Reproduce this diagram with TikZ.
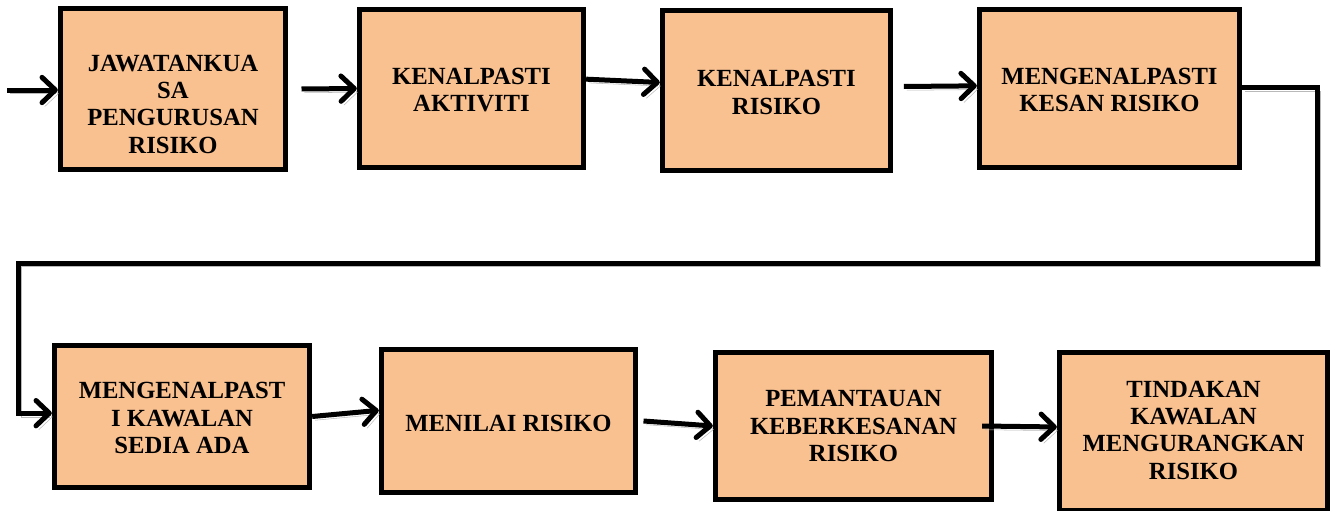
\documentclass[tikz,border=0pt]{standalone}
\usepackage{fontspec}
\setmainfont{Liberation Serif}
\usetikzlibrary{arrows.meta,shadows}
\definecolor{boxfill}{HTML}{F9C090}
\tikzset{
    stepbox/.style={draw=black, line width=3.75pt, fill=boxfill, inner sep=0pt,
        drop shadow={shadow xshift=1.5pt, shadow yshift=-1.5pt, fill=gray!45, opacity=1}},
    steptext/.style={align=center, inner sep=0pt, font=\bfseries\fontsize{18.5}{20.5}\selectfont},
    flow/.style={line width=3.75pt, -{Straight Barb[length=10pt,width=19pt,round]},
        preaction={draw=gray!55, transform canvas={xshift=2.2pt,yshift=-2.8pt}}},
}
\begin{document}
\begin{tikzpicture}[x=0.75pt,y=-0.75pt]
    \useasboundingbox (0,0) rectangle (1333,510);

    % top row
    \node[stepbox, minimum width=169pt, minimum height=121pt] (b1) at (173,89) {};
    \node[stepbox, minimum width=168.25pt, minimum height=118.75pt] (b2) at (471.5,88.5) {};
    \node[stepbox, minimum width=171.25pt, minimum height=120.25pt] (b3) at (776.5,90.5) {};
    \node[stepbox, minimum width=195.25pt, minimum height=118.75pt] (b4) at (1109.5,88.5) {};
    % bottom row
    \node[stepbox, minimum width=191.5pt, minimum height=106.75pt] (b5) at (182,416.5) {};
    \node[stepbox, minimum width=190.75pt, minimum height=107.5pt] (b6) at (508.5,421) {};
    \node[stepbox, minimum width=207.25pt, minimum height=110.5pt] (b7) at (853.5,426) {};
    \node[stepbox, minimum width=201.25pt, minimum height=118.75pt] (b8) at (1193.5,431.5) {};

    \node[steptext] (t1) at (173,104) {JAWATANKUA\\SA\\PENGURUSAN\\RISIKO};
    \node[steptext] (t2) at (471.5,90) {KENALPASTI\\AKTIVITI};
    \node[steptext] (t3) at (776.5,92.5) {KENALPASTI\\RISIKO};
    \node[steptext] (t4) at (1109.5,90) {MENGENALPASTI\\KESAN RISIKO};
    \node[steptext] (t5) at (182,418) {MENGENALPAST\\I KAWALAN\\SEDIA ADA};
    \node[steptext] (t6) at (508.5,423) {MENILAI RISIKO};
    \node[steptext] (t7) at (853.5,426) {PEMANTAUAN\\KEBERKESANAN\\RISIKO};
    \node[steptext] (t8) at (1193.5,430) {TINDAKAN\\KAWALAN\\MENGURANGKAN\\RISIKO};

    \coordinate (in) at (7,90);
    \coordinate (r1) at (1317,263);
    \coordinate (l1) at (18,263);

    \draw[flow] (in) -- (b1.west |- in);
    \draw[flow] ([xshift=10pt]b1.east) -- (b2.west);
    \draw[flow] ([yshift=7pt]b2.east) -- ([yshift=6pt]b3.west);
    \draw[flow] ([xshift=8pt,yshift=3pt]b3.east) -- ([yshift=2pt]b4.west);
    \draw[flow] ([yshift=1pt]b4.east) -| (r1) -- (l1) |- ([yshift=2.5pt]b5.west);
    \draw[flow] (b5.east) -- ([yshift=8pt]b6.west);
    \draw[flow] ([xshift=4pt]b6.east) -- (b7.west);
    \draw[flow] ([xshift=-9pt]b7.east) -- ([yshift=3.4pt]b8.west);
\end{tikzpicture}
\end{document}
